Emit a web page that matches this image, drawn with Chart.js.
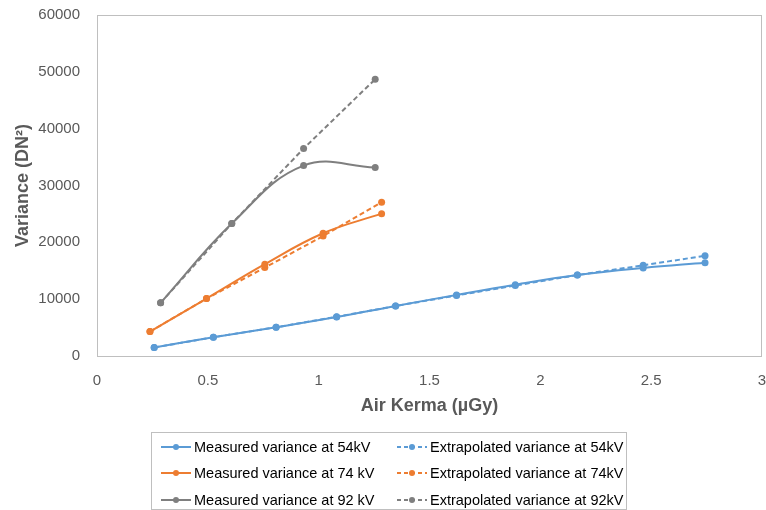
<!DOCTYPE html>
<html>
<head>
<meta charset="utf-8">
<script src="https://cdn.jsdelivr.net/npm/chart.js@4"></script>
<style>
  html, body { margin: 0; padding: 0; background: #fff; }
  #wrap { width: 766px; height: 510px; }
</style>
</head>
<body>
<div id="wrap"><canvas id="myChart" width="766" height="510"></canvas></div>
<script>
// air kerma (uGy) per series
const kerma54 = [0.258, 0.525, 0.808, 1.081, 1.347, 1.622, 1.887, 2.167, 2.464, 2.743]
const kerma74 = [0.239, 0.494, 0.757, 1.02, 1.284]
const kerma92 = [0.287, 0.608, 0.932, 1.255]

// variance (DN^2)
const measured54 = [1500, 3300, 5050, 6850, 8800, 10750, 12550, 14250, 15500, 16400]
const extrap54 = [1500, 3300, 5050, 6900, 8800, 10650, 12400, 14250, 15950, 17650]
const measured74 = [4300, 10100, 16150, 21600, 25050]
const extrap74 = [4300, 10100, 15550, 21100, 27050]
const measured92 = [9350, 23300, 33500, 33150]
const extrap92 = [9350, 23300, 36500, 48700]

const xTicks = [0, 0.5, 1, 1.5, 2, 2.5, 3]
const yTicks = [0, 10000, 20000, 30000, 40000, 50000, 60000]

const labels = [
  'Measured variance at 54kV', 'Extrapolated variance at 54kV',
  'Measured variance at 74 kV', 'Extrapolated variance at 74kV',
  'Measured variance at 92 kV', 'Extrapolated variance at 92kV'
]

const blue = '#5B9BD5', orange = '#ED7D31', grey = '#7F7F7F'
const textGrey = '#595959'

const pts = (xs, ys) => xs.map((x, i) => ({x: x, y: ys[i]}))

function series(label, xs, ys, color, dashed) {
  return {
    label: label,
    data: pts(xs, ys),
    borderColor: color,
    backgroundColor: color,
    borderWidth: 2,
    borderDash: dashed ? [5, 3] : [],
    pointRadius: 3.5,
    pointBorderWidth: 0,
    tension: dashed ? 0 : 0.4,
    fill: false
  }
}

const datasets = [
  series(labels[0], kerma54, measured54, blue, false),
  series(labels[1], kerma54, extrap54, blue, true),
  series(labels[2], kerma74, measured74, orange, false),
  series(labels[3], kerma74, extrap74, orange, true),
  series(labels[4], kerma92, measured92, grey, false),
  series(labels[5], kerma92, extrap92, grey, true)
]

// box round the plot area + the two column legend at the bottom
const framePlugin = {
  id: 'frame',
  beforeDatasetsDraw(chart) {
    const a = chart.chartArea, ctx = chart.ctx
    ctx.save()
    ctx.strokeStyle = '#BFBFBF'
    ctx.lineWidth = 1
    ctx.strokeRect(a.left + 0.5, a.top + 0.5, a.right - a.left - 1, a.bottom - a.top)
    ctx.restore()
  },
  afterDraw(chart) {
    const ctx = chart.ctx
    ctx.save()
    ctx.strokeStyle = '#BFBFBF'
    ctx.lineWidth = 1
    ctx.strokeRect(151.5, 432.5, 475, 77)
    ctx.font = '14.5px "Liberation Sans", Arial, sans-serif'
    ctx.textBaseline = 'middle'
    ctx.fillStyle = '#000'
    const rowY = [447, 473, 500]
    const colX = [161, 397]
    chart.data.datasets.forEach((ds, i) => {
      const y = rowY[Math.floor(i / 2)]
      const x = colX[i % 2]
      ctx.strokeStyle = ds.borderColor
      ctx.lineWidth = 2
      ctx.setLineDash(ds.borderDash.length ? [4, 3] : [])
      ctx.beginPath()
      ctx.moveTo(x, y)
      ctx.lineTo(x + 30, y)
      ctx.stroke()
      ctx.setLineDash([])
      ctx.fillStyle = ds.borderColor
      ctx.beginPath()
      ctx.arc(x + 15, y, 3, 0, Math.PI * 2)
      ctx.fill()
      ctx.fillStyle = '#000'
      ctx.fillText(ds.label, x + 33, y + 1)
    })
    ctx.restore()
  }
}

const ctx = document.getElementById('myChart').getContext('2d')
const myChart = new Chart(ctx, {
  type: 'line',
  data: { datasets: datasets },
  plugins: [framePlugin],
  options: {
    responsive: false,
    animation: false,
    layout: { padding: { top: 15, right: 3, left: 0, bottom: 93 } },
    plugins: {
      legend: { display: false },
      tooltip: { enabled: false }
    },
    scales: {
      x: {
        type: 'linear',
        min: 0, max: 3,
        afterBuildTicks: s => { s.ticks = xTicks.map(v => ({value: v})) },
        afterFit: s => { s.height = 61; s.paddingLeft = 0; s.paddingRight = 0 },
        grid: { display: false, drawTicks: false },
        border: { display: false },
        ticks: {
          padding: 16,
          color: textGrey,
          font: { family: '"Liberation Sans", Arial, sans-serif', size: 15 },
          callback: v => String(v)
        },
        title: {
          display: true,
          text: 'Air Kerma (µGy)',
          color: textGrey,
          padding: { top: 0, bottom: 0 },
          font: { family: '"Liberation Sans", Arial, sans-serif', size: 18, weight: 'bold' }
        }
      },
      y: {
        type: 'linear',
        min: 0, max: 60000,
        afterBuildTicks: s => { s.ticks = yTicks.map(v => ({value: v})) },
        afterFit: s => { s.width = 97; s.paddingTop = 0; s.paddingBottom = 0 },
        grid: { display: false, drawTicks: false },
        border: { display: false },
        ticks: {
          padding: 17,
          color: textGrey,
          font: { family: '"Liberation Sans", Arial, sans-serif', size: 15 },
          callback: v => String(v)
        },
        title: {
          display: true,
          text: 'Variance (DN²)',
          color: textGrey,
          padding: { top: 12, bottom: 0 },
          font: { family: '"Liberation Sans", Arial, sans-serif', size: 18, weight: 'bold' }
        }
      }
    }
  }
})
</script>
</body>
</html>
